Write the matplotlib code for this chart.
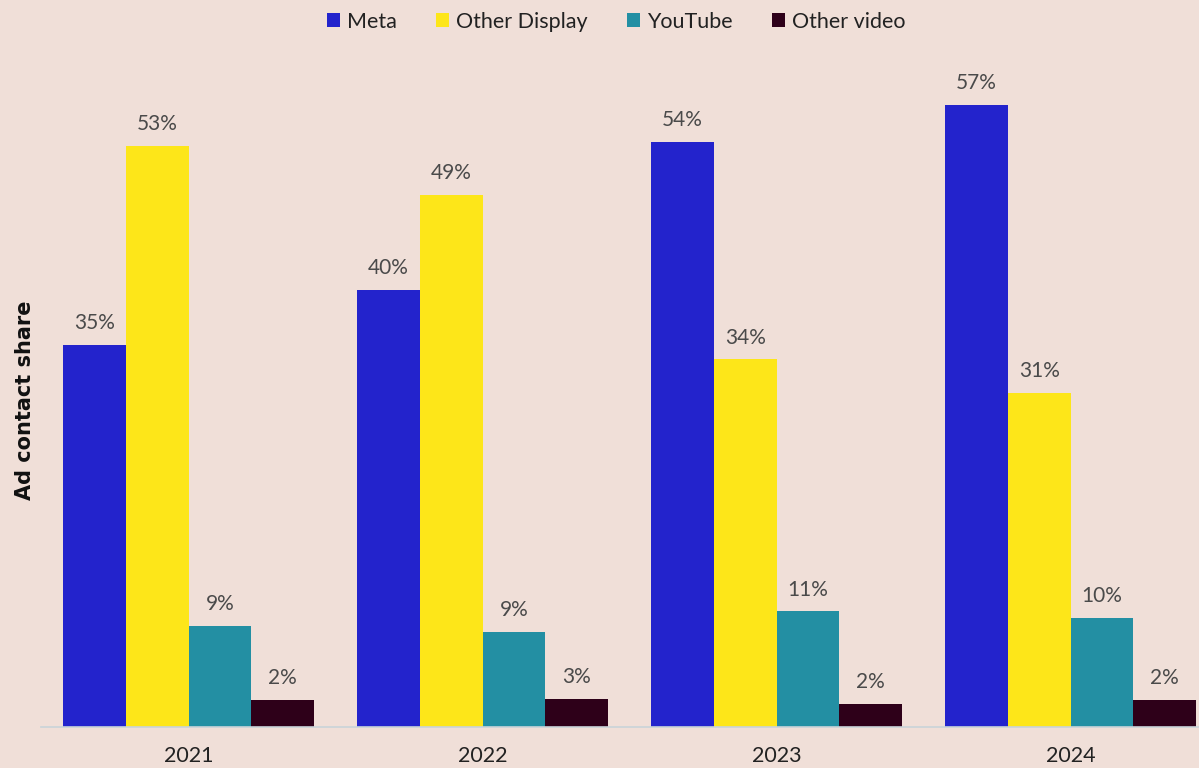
import matplotlib
matplotlib.use("Agg")
import matplotlib.pyplot as plt
import numpy as np

years = ["2021", "2022", "2023", "2024"]
series = ["Meta", "Other Display", "YouTube", "Other video"]
meta = [35.0, 40.05, 53.6, 57.0]
other_display = [53.25, 48.76, 33.7, 30.6]
youtube = [9.26, 8.7, 10.6, 10.0]
other_video = [2.47, 2.57, 2.1, 2.47]
colors = ["#2323CC", "#FDE619", "#238FA3", "#2E0019"]

plt.rcParams['font.family'] = ['Lato', 'DejaVu Sans']
bg = "#F0DFD8"
fig = plt.figure(figsize=(11.99, 7.68), dpi=100, facecolor=bg)
ax = fig.add_axes([0.0342, 0.0534, 0.9658, 0.8665])
ax.set_facecolor(bg)

x = np.arange(len(years))
w = 0.2134
all_vals = [meta, other_display, youtube, other_video]
for i, (name, vals, c) in enumerate(zip(series, all_vals, colors)):
    pos = x + (i - 1.5) * w
    bars = ax.bar(pos, vals, width=w, color=c, label=name, zorder=2)
    for b, v in zip(bars, vals):
        ax.annotate(f"{v:.0f}%", (b.get_x() + b.get_width() / 2, v),
                    xytext=(0, 8.5), textcoords="offset points",
                    ha="center", va="bottom", fontsize=15, color="#4a4a4a")

ax.set_xlim(-0.502, 3.437)
ax.set_ylim(0, 61)
ax.set_xticks(x)
ax.set_xticklabels(years, fontsize=15.5, color="#222222")
ax.tick_params(axis='x', length=0, pad=14)
ax.set_yticks([])
for s in ["top", "right", "left"]:
    ax.spines[s].set_visible(False)
ax.spines["bottom"].set_color("#C9D3D8")
ax.spines["bottom"].set_linewidth(1.2)

fig.text(0.021, 0.479, "Ad contact share", rotation=90, ha="center", va="center",
         fontsize=15, fontweight="bold", color="#111111", family="DejaVu Sans")

leg = fig.legend(loc="center", bbox_to_anchor=(0.514, 0.972), ncol=4, frameon=False,
                 fontsize=15.5, handlelength=0.6, handleheight=0.6, handletextpad=0.35,
                 columnspacing=1.8)
for t in leg.get_texts():
    t.set_color("#222222")

fig.savefig("out.png", dpi=100, facecolor=bg)
